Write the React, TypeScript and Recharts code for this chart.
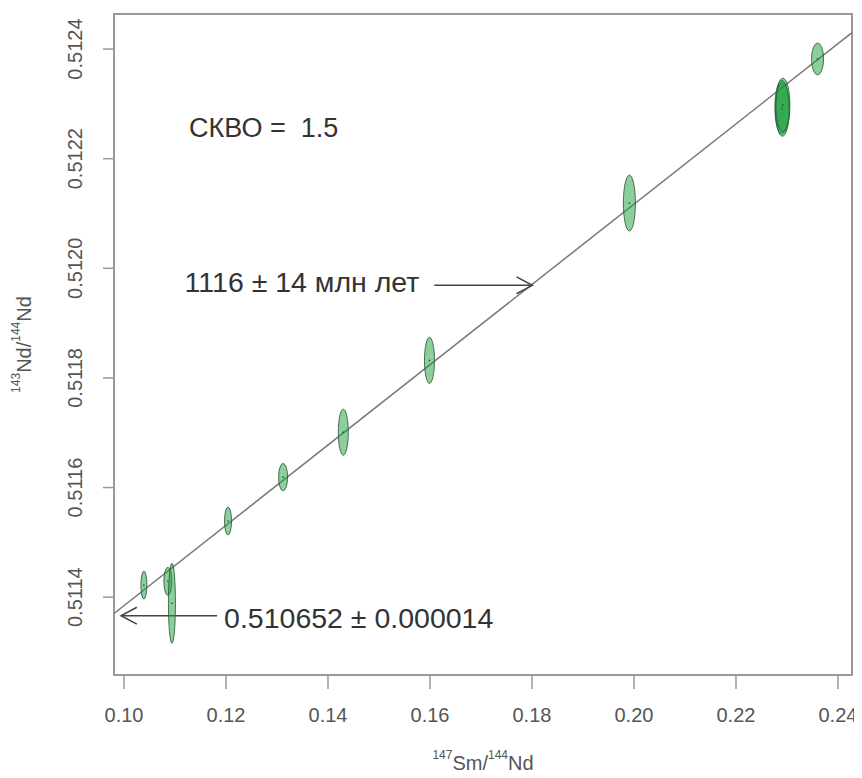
import React from "react";
import { ScatterChart, Scatter, XAxis, YAxis, ReferenceLine, ReferenceArea, ReferenceDot } from "recharts";

// measured 147Sm/144Nd and 143Nd/144Nd, with half-axes of the error ellipses
const smNd = [0.1039, 0.1086, 0.1094, 0.1204, 0.1312, 0.143, 0.1599, 0.1991, 0.229, 0.2291, 0.2292, 0.236];
const ndNd = [0.511422, 0.511429, 0.511389, 0.511539, 0.511619, 0.511701, 0.511832, 0.512119, 0.512294, 0.51229, 0.512298, 0.512382];
const errX = [0.00059, 0.00078, 0.00069, 0.00069, 0.00088, 0.00098, 0.00098, 0.00118, 0.00137, 0.00137, 0.00137, 0.00118];
const errY = [0.0000255, 0.0000255, 0.000073, 0.0000255, 0.000025, 0.000042, 0.000042, 0.000051, 0.000049, 0.000049, 0.000049, 0.000029];

const xTicks = [0.1, 0.12, 0.14, 0.16, 0.18, 0.2, 0.22, 0.24];
const yTicks = [0.5114, 0.5116, 0.5118, 0.512, 0.5122, 0.5124];

// isochron fit
const intercept = 0.510652;
const slope = 0.007325;
const ageText = "1116 ± 14 млн лет";
const interceptText = "0.510652 ± 0.000014";
const mswdText = "СКВО =  1.5";

const xMin = 0.09804;
const xMax = 0.24275;
const yMin = 0.511258;
const yMax = 0.512464;

const W = 854;
const H = 770;
const M = { top: 6, right: 10, bottom: 0, left: 0 };
const Y_W = 106;
const X_H = 103;
const plotW = W - M.left - M.right - Y_W;
const plotH = H - M.top - M.bottom - X_H;
const pxX = plotW / (xMax - xMin);
const pxY = plotH / (yMax - yMin);

const data = smNd.map((x, i) => ({ x, y: ndNd[i], sx: errX[i], sy: errY[i] }));
const fit = (x: number) => intercept + slope * x;

const font = "'Liberation Sans', Arial, sans-serif";
const axisGray = "#999";
const labelGray = "#555";
const textDark = "#333";

const Ellipse = (props: any) => {
  const { cx, cy, payload } = props;
  return (
    <g>
      <ellipse
        cx={cx}
        cy={cy}
        rx={payload.sx * pxX}
        ry={payload.sy * pxY}
        fill="#1a9e3a"
        fillOpacity={0.5}
        stroke="#2d5c3a"
        strokeOpacity={0.85}
        strokeWidth={1}
      />
      <circle cx={cx} cy={cy} r={0.8} fill="#333" />
    </g>
  );
};

const XTick = (props: any) => {
  const { x, y, payload } = props;
  return (
    <text x={x} y={y + 24} textAnchor="middle" dominantBaseline="central" fontSize={20} fill={labelGray} fontFamily={font}>
      {payload.value.toFixed(2)}
    </text>
  );
};

const YTick = (props: any) => {
  const { x, y, payload } = props;
  const tx = x - 26;
  return (
    <text
      x={tx}
      y={y}
      transform={`rotate(-90, ${tx}, ${y})`}
      textAnchor="middle"
      dominantBaseline="central"
      fontSize={20}
      fill={labelGray}
      fontFamily={font}
    >
      {payload.value.toFixed(4)}
    </text>
  );
};

const arrow = (text: string, textDy: number, gap: number) => (props: any) => {
  const { x1, y1, x2, y2 } = props;
  const dir = x2 > x1 ? 1 : -1;
  const head = 18;
  const a = (28 * Math.PI) / 180;
  const hx = x2 - dir * head * Math.cos(a);
  const hy = head * Math.sin(a);
  return (
    <g>
      <line x1={x1} y1={y1} x2={x2} y2={y2} stroke="#444" strokeWidth={1.5} />
      <polyline points={`${hx},${y2 - hy} ${x2},${y2} ${hx},${y2 + hy}`} fill="none" stroke="#444" strokeWidth={1.5} />
      <text
        x={dir > 0 ? x1 - gap : x1 + gap}
        y={y1 + textDy}
        textAnchor={dir > 0 ? "end" : "start"}
        dominantBaseline="central"
        fontSize={28.5}
        fill={textDark}
        fontFamily={font}
      >
        {text}
      </text>
    </g>
  );
};

const Mswd = (props: any) => (
  <text
    x={props.cx}
    y={props.cy}
    dominantBaseline="central"
    fontSize={27}
    fill={textDark}
    fontFamily={font}
    style={{ whiteSpace: "pre" }}
  >
    {mswdText}
  </text>
);

const XTitle = (props: any) => {
  const { x, y, width } = props.viewBox;
  return (
    <text x={x + width / 2} y={y + 88} textAnchor="middle" dominantBaseline="central" fontSize={20} fill={labelGray} fontFamily={font}>
      <tspan fontSize={12} dy={-8}>147</tspan>
      <tspan dy={8}>Sm/</tspan>
      <tspan fontSize={12} dy={-8}>144</tspan>
      <tspan dy={8}>Nd</tspan>
    </text>
  );
};

const YTitle = (props: any) => {
  const { y, height } = props.viewBox;
  const cx = 16;
  const cy = y + height / 2;
  return (
    <text
      x={cx}
      y={cy}
      transform={`rotate(-90, ${cx}, ${cy})`}
      textAnchor="middle"
      dominantBaseline="central"
      fontSize={20}
      fill={labelGray}
      fontFamily={font}
    >
      <tspan fontSize={12} dy={-8}>143</tspan>
      <tspan dy={8}>Nd/</tspan>
      <tspan fontSize={12} dy={-8}>144</tspan>
      <tspan dy={8}>Nd</tspan>
    </text>
  );
};

export default function App() {
  const ageY = 0.511969;
  const leftY = fit(xMin) - 0.000004;
  return (
    <div style={{ width: W, height: H, background: "#fff" }}>
      <ScatterChart width={W} height={H} margin={M}>
        <XAxis
          type="number"
          dataKey="x"
          domain={[xMin, xMax]}
          ticks={xTicks}
          interval={0}
          allowDataOverflow
          height={X_H}
          axisLine={false}
          tickSize={14}
          tickLine={{ stroke: axisGray, strokeWidth: 1.5 }}
          tick={<XTick />}
          label={<XTitle />}
        />
        <YAxis
          type="number"
          dataKey="y"
          domain={[yMin, yMax]}
          ticks={yTicks}
          interval={0}
          allowDataOverflow
          width={Y_W}
          axisLine={false}
          tickSize={11}
          tickLine={{ stroke: axisGray, strokeWidth: 1.5 }}
          tick={<YTick />}
          label={<YTitle />}
        />
        <ReferenceArea x1={xMin} x2={xMax} y1={yMin} y2={yMax} fill="none" stroke={axisGray} strokeWidth={2} />
        <ReferenceLine
          segment={[
            { x: xMin, y: fit(xMin) },
            { x: xMax, y: fit(xMax) },
          ]}
          stroke="#777"
          strokeWidth={1.5}
        />
        <Scatter data={data} shape={<Ellipse />} isAnimationActive={false} />
        <ReferenceLine
          segment={[
            { x: 0.16085, y: ageY },
            { x: 0.18008, y: ageY },
          ]}
          shape={arrow(ageText, -3, 15)}
        />
        <ReferenceLine
          segment={[
            { x: 0.11825, y: leftY },
            { x: 0.09941, y: leftY },
          ]}
          shape={arrow(interceptText, 2, 7)}
        />
        <ReferenceDot x={0.11276} y={0.512256} r={0} shape={<Mswd />} />
      </ScatterChart>
    </div>
  );
}
